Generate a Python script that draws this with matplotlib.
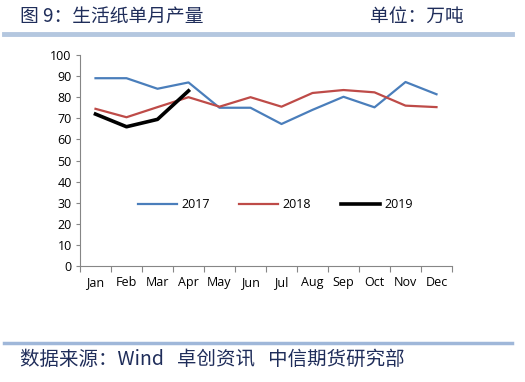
import matplotlib
matplotlib.use('Agg')
import matplotlib.pyplot as plt
from matplotlib.lines import Line2D

plt.rcParams['font.family'] = ['Open Sans', 'Noto Sans CJK SC', 'DejaVu Sans']

months = ['Jan', 'Feb', 'Mar', 'Apr', 'May', 'Jun', 'Jul', 'Aug', 'Sep', 'Oct', 'Nov', 'Dec']
y2017 = [89, 89, 84, 87, 75, 75, 67.3, 74, 80.2, 75.2, 87.2, 81.4]
y2018 = [74.5, 70.5, 75.3, 80, 75.5, 80, 75.5, 82, 83.4, 82.3, 76, 75.3]
y2019 = [72, 66, 69.5, 83]
yticks = list(range(0, 101, 10))

title = '图 9：生活纸单月产量'
unit = '单位：万吨'
source = '数据来源：Wind   卓创资讯   中信期货研究部'

navy = '#1f2d5a'
cjk = ['Noto Sans CJK SC', 'DejaVu Sans']
fig = plt.figure(figsize=(5.25, 3.82), dpi=100)
ax = fig.add_axes([80/525, 1-266/382, 372/525, 211/382])

x = list(range(len(months)))
ax.plot(x, y2017, color='#4a7ebb', lw=1.6, label='2017')
ax.plot(x, y2018, color='#be4b48', lw=1.6, label='2018')
ax.plot(x[:len(y2019)], y2019, color='black', lw=2.6, label='2019')

ax.set_xlim(-0.5, 11.5)
ax.set_ylim(0, 100)
ax.set_yticks(yticks)
ax.tick_params(axis='y', labelsize=9, length=3, color='#868686', pad=3)
ax.set_xticks([i - 0.5 for i in range(13)])
ax.set_xticklabels([])
ax.set_xticks(x, minor=True)
ax.set_xticklabels(months, minor=True, fontsize=9)
ax.tick_params(axis='x', which='major', length=4, color='#868686')
ax.tick_params(axis='x', which='minor', length=0, pad=7)
for s in ['top', 'right']:
    ax.spines[s].set_visible(False)
for s in ['left', 'bottom']:
    ax.spines[s].set_color('#868686')

ax.legend(loc='center', bbox_to_anchor=(0.525, 0.29), ncol=3, frameon=False,
          fontsize=9, handlelength=3.1, columnspacing=2.4, handletextpad=0.35)

fig.text(20/525, 1-17/382, title, fontsize=13.5, color=navy, va='center', family=cjk)
fig.text(370/525, 1-17/382, unit, fontsize=13.5, color=navy, va='center', family=cjk)
fig.text(20/525, 1-359/382, source, fontsize=14, color=navy, va='center', family=cjk)
fig.add_artist(Line2D([4/525, 512/525], [1-34/382, 1-34/382], color='#b4c7df', lw=3.5))
fig.add_artist(Line2D([4/525, 512/525], [1-343/382, 1-343/382], color='#9fb7d9', lw=2.5))

fig.savefig('out.png', dpi=100)
